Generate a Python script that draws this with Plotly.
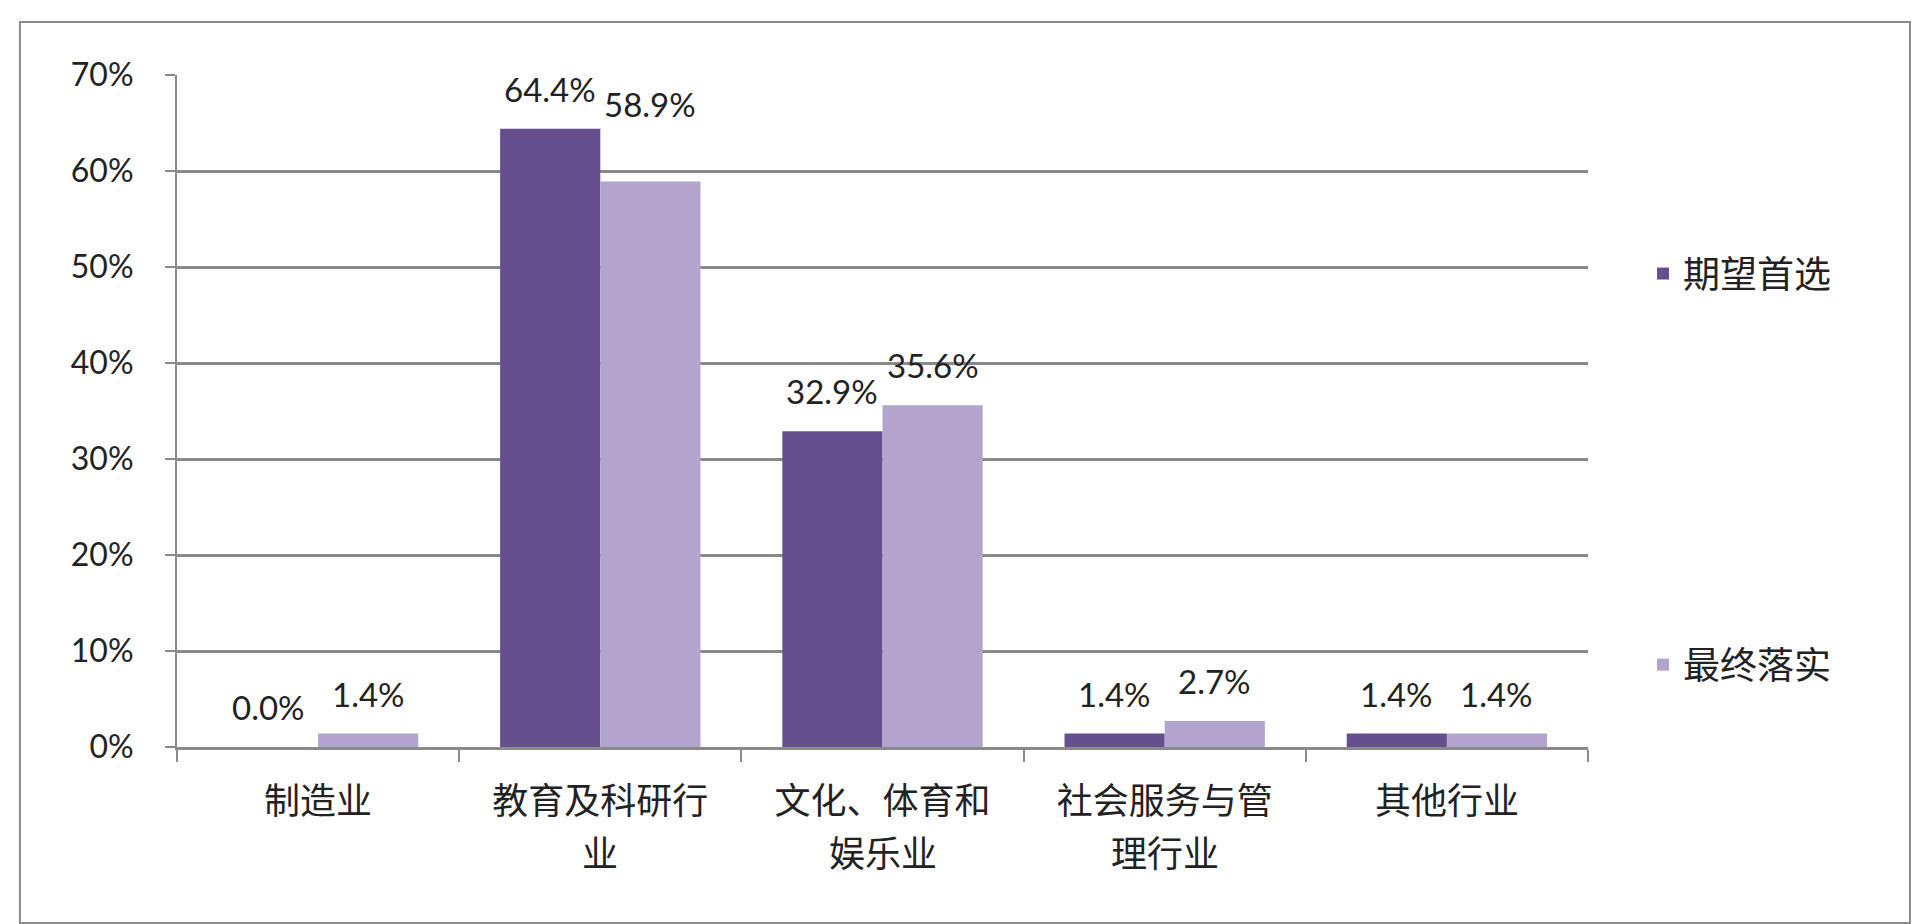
import plotly.graph_objects as go

# categories and values (percent)
categories = ["制造业", "教育及科研行业", "文化、体育和娱乐业", "社会服务与管理行业", "其他行业"]
label_line1 = ["制造业", "教育及科研行", "文化、体育和", "社会服务与管", "其他行业"]
label_line2 = ["", "业", "娱乐业", "理行业", ""]
series_names = ["期望首选", "最终落实"]
expected = [0.0, 64.4, 32.9, 1.4, 1.4]
actual = [1.4, 58.9, 35.6, 2.7, 1.4]
y_ticks = [0, 10, 20, 30, 40, 50, 60, 70]
y_tick_labels = ["0%", "10%", "20%", "30%", "40%", "50%", "60%", "70%"]

colors = ["#664f8f", "#b3a4cd"]
num_font = "Lato, 'Noto Sans', sans-serif"
cjk_font = "'Noto Sans CJK SC', sans-serif"

W, H = 1920, 924
L, R, T, B = 169, 340, 67, 185
BARGAP = 0.29
plot_w = W - L - R
bar_w = plot_w / len(categories) * (1 - BARGAP) / 2

fig = go.Figure()
for name, vals, col, grp in zip(series_names, [expected, actual], colors, ["a", "b"]):
    fig.add_trace(go.Bar(
        x=categories, y=vals, name=name, legendgroup=grp,
        marker=dict(color=col, line=dict(width=0)),
    ))

# data labels, lifted above the bars like the original
annotations = []
for k, vals in enumerate([expected, actual]):
    side = -1 if k == 0 else 1
    for i, (cat, v) in enumerate(zip(categories, vals)):
        lift = 40
        if k == 1 and i == 1:
            lift = 78  # the 58.9% label sits higher in the source
        annotations.append(dict(
            x=cat, y=v, xref="x", yref="y", text=f"{v:.1f}%", showarrow=False,
            xshift=side * bar_w / 2, yshift=lift, yanchor="middle",
            font=dict(family=num_font, size=33, color="#222222"),
        ))

# second line of the wrapped category names
for cat, line in zip(categories, label_line2):
    if line:
        annotations.append(dict(
            x=cat, y=0, xref="x", yref="y", text=line, showarrow=False,
            yshift=-104, yanchor="middle",
            font=dict(family=cjk_font, size=36, color="#222222"),
        ))

fig.update_layout(
    width=W, height=H,
    paper_bgcolor="white", plot_bgcolor="white",
    margin=dict(l=L, r=R, t=T, b=B),
    barmode="group", bargap=BARGAP, bargroupgap=0,
    showlegend=True,
    legend=dict(x=1.039, y=0.75, xanchor="left", yanchor="top",
                tracegroupgap=340, itemsizing="constant",
                font=dict(family=cjk_font, size=37, color="#222222")),
    annotations=annotations,
    shapes=[dict(type="rect", xref="paper", yref="paper",
                 x0=-0.1113, x1=1.2282, y0=-0.2619, y1=1.0789,
                 line=dict(color="#8c8c8c", width=2), layer="below")],
)

fig.update_xaxes(
    tickvals=categories, ticktext=label_line1,
    showline=True, linecolor="#8a8a8a", linewidth=3,
    ticks="outside", tickson="boundaries", ticklen=12, tickcolor="#8a8a8a", tickwidth=2,
    ticklabelstandoff=21,
    tickfont=dict(family=cjk_font, size=36, color="#222222"),
)
fig.update_yaxes(
    range=[0, 70], tickvals=y_ticks, ticktext=y_tick_labels,
    showgrid=True, gridcolor="#8a8a8a", gridwidth=3,
    showline=True, linecolor="#8a8a8a", linewidth=2,
    ticks="outside", ticklen=10, tickcolor="#8a8a8a", tickwidth=2,
    ticklabelstandoff=25,
    tickfont=dict(family=num_font, size=32, color="#222222"),
    zeroline=False,
)

fig.write_html("out.html")
